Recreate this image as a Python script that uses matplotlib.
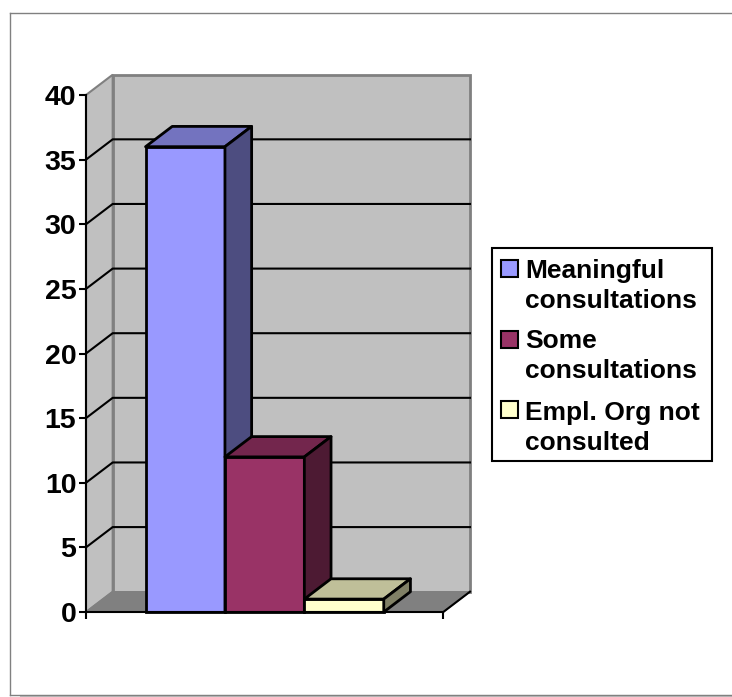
import matplotlib
matplotlib.use("Agg")
import matplotlib.pyplot as plt
from matplotlib.patches import Polygon, Rectangle

W, H = 732, 697

categories = ["Meaningful\nconsultations", "Some\nconsultations", "Empl. Org not\nconsulted"]
values = [36, 12, 1]
front_colors = ["#9999FF", "#993366", "#FFFFCC"]
top_colors = ["#7373BF", "#73264D", "#BFBF99"]
side_colors = ["#4D4D80", "#4D1A33", "#808066"]
yticks = [0, 5, 10, 15, 20, 25, 30, 35, 40]

plt.rcParams["font.family"] = ["Liberation Sans", "DejaVu Sans"]
plt.rcParams["font.weight"] = "bold"

fig = plt.figure(figsize=(W / 100, H / 100), dpi=100)

# overlay in pixel units for the outer frame and the legend
over = fig.add_axes([0, 0, 1, 1], zorder=5)
over.set_xlim(0, W)
over.set_ylim(H, 0)
over.axis("off")
over.plot([21, W], [696, 696], color="#C0C0C0", lw=1.5)
over.plot([9.5, 9.5], [694.5, 12.5], color="#808080", lw=1)
over.plot([9.5, W], [12.5, 12.5], color="#808080", lw=1)
over.plot([9.5, W], [694.5, 694.5], color="#808080", lw=1)

# main axes cover the front plane of the 3d box
left, right, top, bottom = 86, 443.3, 95, 612
ax = fig.add_axes([left / W, 1 - bottom / H, (right - left) / W, (bottom - top) / H], zorder=2)
ax.set_xlim(0, 4.5)
ax.set_ylim(0, 40)
ax.patch.set_visible(False)

dx = 0.336
dy = 1.57
xmax = 4.5
ymax = 40

# walls and floor
ax.add_patch(Polygon([(dx, dy), (xmax + dx, dy), (xmax + dx, ymax + dy), (dx, ymax + dy)],
                     facecolor="#C0C0C0", edgecolor="#808080", lw=2, clip_on=False, zorder=1))
ax.add_patch(Polygon([(0, 0), (dx, dy), (dx, ymax + dy), (0, ymax)],
                     facecolor="#C0C0C0", edgecolor="#808080", lw=1.5, clip_on=False, zorder=1))
ax.add_patch(Polygon([(0, 0), (xmax, 0), (xmax + dx, dy), (dx, dy)],
                     facecolor="#808080", edgecolor="#808080", lw=1, clip_on=False, zorder=1))
ax.plot([xmax, xmax + dx], [0, dy], color="black", lw=1.5, clip_on=False, zorder=1.5)

# gridlines run along the side wall and the back wall
for t in yticks[1:-1]:
    ax.plot([0, dx, xmax + dx], [t, t + dy, t + dy], color="black", lw=1.5,
            clip_on=False, zorder=1.5)

# bars, left to right so each one covers the side of the previous
for i, v in enumerate(values):
    x0 = 0.75 + i
    x1 = x0 + 1
    z = 3 + i
    ax.bar(x0, v, width=1, align="edge", color=front_colors[i], edgecolor="black",
           lw=2, zorder=z, clip_on=False)
    ax.add_patch(Polygon([(x0, v), (x1, v), (x1 + dx, v + dy), (x0 + dx, v + dy)],
                         facecolor=top_colors[i], edgecolor="black", lw=2,
                         joinstyle="round", clip_on=False, zorder=z))
    ax.add_patch(Polygon([(x1, 0), (x1 + dx, dy), (x1 + dx, v + dy), (x1, v)],
                         facecolor=side_colors[i], edgecolor="black", lw=2,
                         joinstyle="round", clip_on=False, zorder=z))

for s in ["top", "right"]:
    ax.spines[s].set_visible(False)
for s in ["left", "bottom"]:
    ax.spines[s].set_linewidth(1.5)
    ax.spines[s].set_zorder(10)
ax.set_yticks(yticks)
ax.set_xticks([0, xmax])
ax.set_xticklabels([])
ax.tick_params(axis="both", length=5, width=1.5, labelsize=20.5, pad=2)

# legend box
over.add_patch(Rectangle((492, 248), 219.5, 212.5, facecolor="white", edgecolor="black", lw=1.5))
key_tops = [259.5, 331, 401]
text_y = [308, 378, 450]
for name, color, ky, ty in zip(categories, front_colors, key_tops, text_y):
    over.add_patch(Rectangle((501, ky), 17, 17, facecolor=color, edgecolor="black", lw=1.5))
    over.text(525, ty, name, fontsize=19, fontweight="bold", va="baseline", ha="left",
              linespacing=1.3, color="black")

fig.savefig("out.png", dpi=100)
